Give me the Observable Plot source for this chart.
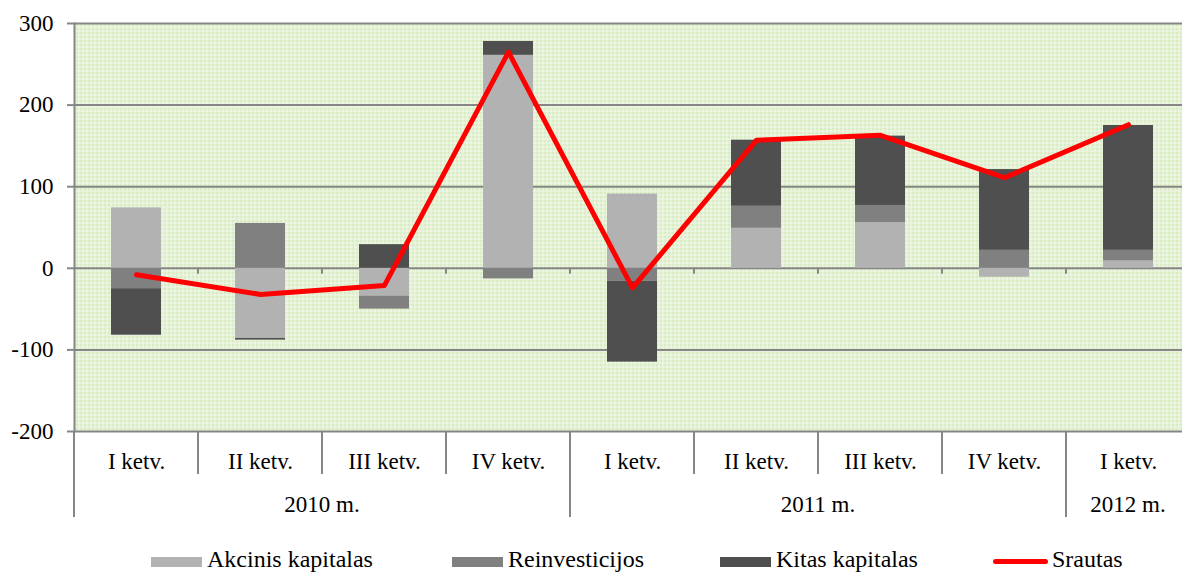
<!DOCTYPE html>
<html>
<head>
<meta charset="utf-8">
<script src="https://cdn.jsdelivr.net/npm/d3@7"></script>
<script src="https://cdn.jsdelivr.net/npm/@observablehq/plot@0.6"></script>
<style>
  html, body { margin: 0; padding: 0; background: #ffffff; }
  #wrap { position: relative; width: 1182px; height: 574px; overflow: hidden; font-family: "Liberation Serif", "Times New Roman", serif; }
  #legend { position: absolute; left: 0; top: 540px; width: 1182px; height: 34px; font-size: 24px; color: #000; }
  .item { position: absolute; top: 0; height: 34px; }
  .sw { position: absolute; top: 17px; height: 10px; }
  .lab { position: absolute; top: 6px; line-height: 26px; white-space: nowrap; }
  #chart svg text { font-family: "Liberation Serif", "Times New Roman", serif; font-weight: normal; }
</style>
</head>
<body>
<svg width="0" height="0" style="position:absolute">
  <defs>
    <pattern id="bgpat" width="4" height="4" patternUnits="userSpaceOnUse">
      <rect width="4" height="4" fill="#ffffff"/>
      <rect x="0" y="0" width="4" height="1" fill="#cde6ad"/>
      <rect x="0" y="0" width="1" height="4" fill="#cde6ad"/>
      <rect x="2" y="0" width="1" height="4" fill="#e6f2d8"/>
      <rect x="0" y="2" width="4" height="1" fill="#e6f2d8"/>
    </pattern>
  </defs>
</svg>
<div id="wrap">
  <div id="chart"></div>
  <div id="legend"></div>
</div>
<script>
// ---- data ----
const quarters = ["I ketv.", "II ketv.", "III ketv.", "IV ketv.", "I ketv.", "II ketv.", "III ketv.", "IV ketv.", "I ketv."];
const quarterYears = ["2010 m.", "2010 m.", "2010 m.", "2010 m.", "2011 m.", "2011 m.", "2011 m.", "2011 m.", "2012 m."];
const years = ["2010 m.", "2011 m.", "2012 m."];
const seriesNames = ["Akcinis kapitalas", "Reinvesticijos", "Kitas kapitalas"];
const akcinis = [74, -86, -34, 261, 91, 49, 56, -11, 9];
const reinvesticijos = [-25, 55, -16, -13, -16, 27, 21, 22, 13];
const kitas = [-57, -2, 29, 17, -99, 81, 85, 99, 153];
const srautas = [-8, -32, -21, 265, -24, 157, 163, 111, 176];
const lineName = "Srautas";
const yTicks = [-200, -100, 0, 100, 200, 300];

// ---- derived tables ----
const keys = quarters.map((q, i) => quarterYears[i] + " · " + q + " · " + i);
const keyLabel = new Map(keys.map((k, i) => [k, quarters[i]]));
const seriesValues = [akcinis, reinvesticijos, kitas];
const long = [];
keys.forEach((k, i) => seriesNames.forEach((s, j) => long.push({key: k, series: s, value: seriesValues[j][i]})));
const flow = keys.map((k, i) => ({key: k, value: srautas[i]}));

const colors = ["#b2b2b2", "#808080", "#4f4f4f"];
const red = "#ff0000";
const gridColor = "#868686";
const FONT = "'Liberation Serif', 'Times New Roman', serif";

// custom mark: category separators, zero-line ticks and year labels, from the x band scale
function categoryFrame(index, scales, values, dims) {
  const sx = scales.x, sy = scales.y;
  const desc = scales.scales ? scales.scales.x : {};
  const bw = typeof sx.bandwidth === "function" ? sx.bandwidth() : desc.bandwidth;
  const step = typeof sx.step === "function" ? sx.step() : desc.step;
  const gap = (step - bw) / 2;
  const leftOf = k => sx(k) - gap;
  const rightOf = k => sx(k) + bw + gap;
  const y0 = sy(0), yb = sy(-200);
  const g = d3.create("svg:g");
  const boundaries = [];
  keys.forEach((k, i) => {
    const yearStart = i === 0 || quarterYears[i] !== quarterYears[i - 1];
    boundaries.push({x: leftOf(k), year: yearStart, interior: i > 0});
  });
  boundaries.push({x: rightOf(keys[keys.length - 1]), year: true, interior: false});
  for (const b of boundaries) {
    g.append("line").attr("x1", b.x).attr("x2", b.x).attr("y1", yb).attr("y2", yb + (b.year ? 86 : 43))
      .attr("stroke", gridColor).attr("stroke-width", 2);
    if (b.interior) {
      g.append("line").attr("x1", b.x).attr("x2", b.x).attr("y1", y0).attr("y2", y0 + 6)
        .attr("stroke", gridColor).attr("stroke-width", 2);
    }
  }
  for (const yr of years) {
    const ks = keys.filter((k, i) => quarterYears[i] === yr);
    const cx = (leftOf(ks[0]) + rightOf(ks[ks.length - 1])) / 2;
    g.append("text").attr("x", cx).attr("y", yb + 81).attr("text-anchor", "middle")
      .attr("font-family", FONT).attr("font-size", 23).attr("fill", "#000").text(yr);
  }
  return g.node();
}

const chart = Plot.plot({
  width: 1182,
  height: 540,
  marginLeft: 74,
  marginRight: -8,
  marginTop: 23,
  marginBottom: 109,
  style: {fontFamily: FONT, fontSize: "23px", color: "#000", background: "transparent", overflow: "visible"},
  x: {domain: keys, type: "band", paddingInner: 0.6, paddingOuter: 0.3, axis: null},
  y: {domain: [-200, 300], nice: false},
  color: {domain: seriesNames, range: colors},
  marks: [
    Plot.frame({fill: "url(#bgpat)"}),
    Plot.ruleY(yTicks, {stroke: gridColor, strokeWidth: 2}),
    Plot.barY(long, {x: "key", y: "value", fill: "series"}),
    Plot.lineY(flow, {x: "key", y: "value", stroke: red, strokeWidth: 5, strokeLinecap: "round"}),
    Plot.axisY(yTicks, {tickSize: 7, tickPadding: 14, tickFormat: d => String(d), stroke: gridColor, strokeWidth: 2, fill: "#000", fontSize: 23, fontFamily: FONT, label: null}),
    Plot.frame({anchor: "left", stroke: gridColor, strokeWidth: 2}),
    Plot.text(keys, {x: d => d, frameAnchor: "bottom", dy: 30, lineAnchor: "middle", text: d => keyLabel.get(d), fontSize: 23, fontFamily: FONT, fill: "#000"}),
    categoryFrame
  ]
});
document.getElementById("chart").appendChild(chart);

// ---- legend ----
const legend = document.getElementById("legend");
const legendItems = [
  {name: seriesNames[0], color: colors[0], left: 151, type: "box"},
  {name: seriesNames[1], color: colors[1], left: 452, type: "box"},
  {name: seriesNames[2], color: colors[2], left: 720, type: "box"},
  {name: lineName, color: red, left: 993, type: "line"}
];
for (const it of legendItems) {
  const item = document.createElement("div");
  item.className = "item";
  item.style.left = it.left + "px";
  const sw = document.createElement("div");
  sw.className = "sw";
  if (it.type === "box") {
    sw.style.width = "51px"; sw.style.background = it.color;
  } else {
    sw.style.width = "55px"; sw.style.height = "5px"; sw.style.top = "19px"; sw.style.borderRadius = "3px"; sw.style.background = it.color;
  }
  const lab = document.createElement("div");
  lab.className = "lab";
  lab.style.left = (it.type === "box" ? 56 : 59) + "px";
  lab.textContent = it.name;
  item.appendChild(sw); item.appendChild(lab);
  legend.appendChild(item);
}
</script>
</body>
</html>
